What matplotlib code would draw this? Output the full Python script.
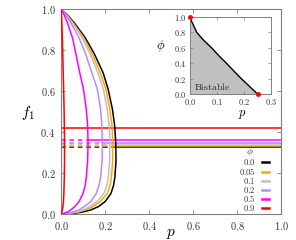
import matplotlib
matplotlib.use("Agg")
import matplotlib.pyplot as plt
from matplotlib.ticker import FuncFormatter
from matplotlib.lines import Line2D

plt.rcParams['mathtext.fontset'] = 'cm'
plt.rcParams['font.family'] = ['DejaVu Serif']

# ---------------- data ----------------
phi_labels = ["0.0", "0.05", "0.1", "0.2", "0.5", "0.9"]
colors = ["#000000", "#ffa500", "#c0c0c0", "#bb88ff", "#ff00ff", "#ff0000"]

# f1 grid along each bifurcation curve
f_grid = [0.0, 0.002, 0.005, 0.01, 0.02, 0.036, 0.06, 0.1, 0.14, 0.18, 0.26, 0.346,
          0.43, 0.51, 0.61, 0.69, 0.78, 0.86, 0.93, 0.97, 1.0]
p_phi00 = [0.0, 0.035, 0.068, 0.100, 0.136, 0.170, 0.200, 0.227, 0.239, 0.245, 0.250, 0.249,
           0.244, 0.234, 0.214, 0.191, 0.152, 0.110, 0.062, 0.030, 0.0]
p_phi005 = [0.0, 0.025, 0.050, 0.080, 0.112, 0.145, 0.178, 0.210, 0.223, 0.229, 0.235, 0.235,
            0.232, 0.222, 0.204, 0.178, 0.142, 0.103, 0.057, 0.027, 0.0]
p_phi01 = [0.0, 0.020, 0.042, 0.070, 0.100, 0.130, 0.163, 0.195, 0.209, 0.215, 0.221, 0.222,
           0.219, 0.210, 0.193, 0.167, 0.133, 0.096, 0.053, 0.025, 0.0]
p_phi02 = [0.0, 0.015, 0.032, 0.055, 0.082, 0.105, 0.135, 0.160, 0.173, 0.180, 0.187, 0.188,
           0.186, 0.180, 0.165, 0.140, 0.112, 0.082, 0.046, 0.022, 0.0]
p_phi05 = [0.0, 0.008, 0.017, 0.030, 0.045, 0.062, 0.082, 0.100, 0.110, 0.115, 0.121, 0.123,
           0.121, 0.115, 0.102, 0.085, 0.068, 0.052, 0.030, 0.015, 0.0]
p_phi09 = [0.0, 0.001, 0.002, 0.004, 0.006, 0.009, 0.011, 0.013, 0.014, 0.015, 0.016, 0.016,
           0.015, 0.014, 0.012, 0.010, 0.008, 0.006, 0.004, 0.002, 0.0]
p_curves = [p_phi00, p_phi005, p_phi01, p_phi02, p_phi05, p_phi09]

# interior fixed point (horizontal lines) and critical p for each phi
f_star = [0.327, 0.332, 0.340, 0.348, 0.361, 0.418]
p_crit = [0.250, 0.235, 0.222, 0.188, 0.123, 0.016]

# inset: boundary of bistable region
inset_p = [0.0, 0.005, 0.012, 0.025, 0.05, 0.08, 0.106, 0.135, 0.162, 0.19, 0.22, 0.235, 0.25]
inset_phi = [1.0, 0.95, 0.9, 0.8, 0.7, 0.6, 0.5, 0.4, 0.3, 0.2, 0.1, 0.05, 0.0]
inset_end_p = [0.0, 0.25]
inset_end_phi = [1.0, 0.0]

# ---------------- figure ----------------
W, H = 296, 240
fig = plt.figure(figsize=(W / 100, H / 100), dpi=100)

def fr(x0, y0, x1, y1):
    return [x0 / W, 1 - y1 / H, (x1 - x0) / W, (y1 - y0) / H]

spine_col = "#808080"
ax = fig.add_axes(fr(61, 9, 281, 214))
for s in ax.spines.values():
    s.set_color(spine_col)
    s.set_linewidth(0.8)

lw = 1.1
for pc, fs, col in zip(p_crit, f_star, colors):
    ax.plot([0, pc], [fs, fs], color=col, lw=lw, ls=(0, (3, 2.5)), zorder=2)
    ax.plot([pc, 1], [fs, fs], color=col, lw=lw, zorder=2)
for pv, col in zip(p_curves, colors):
    ax.plot(pv, f_grid, color=col, lw=lw, zorder=3, solid_joinstyle="round")

ax.set_xlim(0, 1)
ax.set_ylim(0, 1)
ticks = [0, 0.2, 0.4, 0.6, 0.8, 1.0]
ax.set_xticks(ticks)
ax.set_yticks(ticks)
fmt = FuncFormatter(lambda v, _: f"${v:.1f}$")
ax.xaxis.set_major_formatter(fmt)
ax.yaxis.set_major_formatter(fmt)
ax.tick_params(direction="in", top=True, right=True, length=3, width=0.6,
               color=spine_col, labelsize=7.5, labelcolor="#333333", pad=4)
ax.set_xlabel("$p$", fontsize=11)
ax.xaxis.set_label_coords(0.5, -0.065)
ax.set_ylabel("$f_1$", fontsize=11, rotation=0)
ax.yaxis.set_label_coords(-0.15, 0.45)

# legend drawn manually (labels right aligned, handle on the right)
def ax_x(px):
    return (px - 61) / 220
def ax_y(py):
    return (214 - py) / 205

ax.text(ax_x(250), ax_y(152), r"$\phi$", transform=ax.transAxes, ha="center",
        va="center", fontsize=7, color="#333333")
row_y = [162.3, 171.6, 180.6, 189.6, 198.6, 207.6]
for lab, col, yy in zip(phi_labels, colors, row_y):
    ax.text(ax_x(255.5), ax_y(yy), f"${lab}$", transform=ax.transAxes,
            ha="right", va="center", fontsize=6.2, color="#333333")
    ax.add_line(Line2D([ax_x(261.5), ax_x(269)], [ax_y(yy), ax_y(yy)],
                       transform=ax.transAxes, color=col, lw=1.8))

# ---------------- inset ----------------
ins = fig.add_axes(fr(190, 17, 271, 94))
for s in ins.spines.values():
    s.set_color(spine_col)
    s.set_linewidth(0.7)
ins.fill_between(inset_p, inset_phi, 0, color="#c0c0c0", lw=0)
ins.plot(inset_p, inset_phi, color="black", lw=1.0)
ins.plot(inset_end_p, inset_end_phi, "o", color="#ff0000", ms=2.5, clip_on=False, zorder=5)
ins.set_xlim(0, 0.3)
ins.set_ylim(0, 1)
ins.set_xticks([0, 0.1, 0.2, 0.3])
ins.set_yticks([0, 0.2, 0.4, 0.6, 0.8, 1.0])
ins.xaxis.set_major_formatter(fmt)
ins.yaxis.set_major_formatter(fmt)
ins.tick_params(direction="in", top=True, right=True, length=2.5, width=0.5,
                color=spine_col, labelsize=6, labelcolor="#333333", pad=2.5)
ins.set_xlabel("$p$", fontsize=9)
ins.xaxis.set_label_coords(0.65, -0.18)
ins.set_ylabel(r"$\phi$", fontsize=9, rotation=0)
ins.yaxis.set_label_coords(-0.36, 0.52)
ins.text(0.015, 0.025, r"$\mathrm{Bistable}$", fontsize=7, color="#222222",
         va="bottom", ha="left")

fig.savefig("out.png", dpi=100)
